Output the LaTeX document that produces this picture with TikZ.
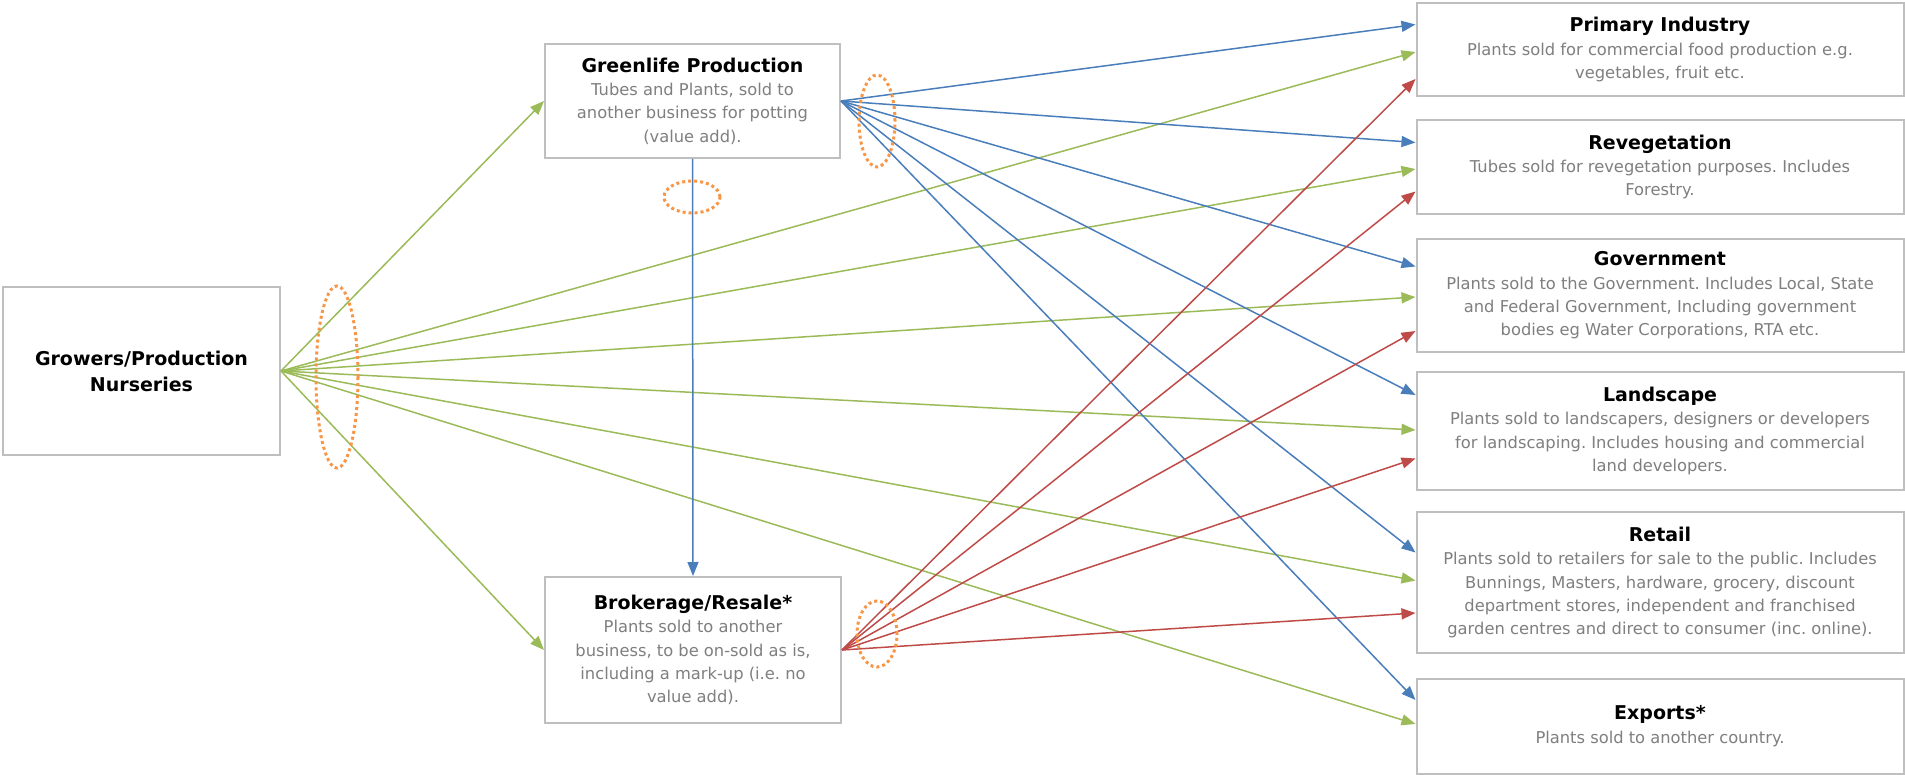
\documentclass[tikz,border=0pt]{standalone}
\usepackage{fontspec}
\setmainfont{DejaVu Sans}
\usetikzlibrary{arrows.meta}
\definecolor{cblue}{HTML}{4A7EBB}
\definecolor{cgreen}{HTML}{9BBB59}
\definecolor{cred}{HTML}{BE4B48}
\definecolor{corange}{HTML}{F79646}
\definecolor{cgrey}{HTML}{BFBFBF}
\definecolor{ctext}{HTML}{7F7F7F}
\newcommand{\boxttl}[1]{{\color{black}\fontsize{19}{23.3}\selectfont\bfseries #1}}
\frenchspacing
\begin{document}
\begin{tikzpicture}[x=1pt,y=-1pt,
  box/.style={draw=cgrey, line width=2pt, fill=white, rectangle, align=center,
    inner sep=0pt, font=\fontsize{16.3}{23.3}\selectfont, text=ctext},
  rbox/.style={box, minimum width=487pt},
  conn/.style={line width=1.5pt, -{Triangle[length=14pt,width=11pt]}},
  bl/.style={conn, draw=cblue, fill=cblue},
  gr/.style={conn, draw=cgreen, fill=cgreen},
  rd/.style={conn, draw=cred, fill=cred},
  ell/.style={draw=corange, line width=3pt, dash pattern=on 3pt off 3pt}
]
\useasboundingbox (0,0) rectangle (1905,775);

% nodes
\node[box, minimum width=277pt, minimum height=168pt, font=\fontsize{19}{26}\selectfont\bfseries, text=black]
  (grow) at (141.5,371) {Growers/Production\\Nurseries};
\node[box, minimum width=295pt, minimum height=114pt] (green) at (692.5,101)
  {\boxttl{Greenlife Production}\\Tubes and Plants, sold to\\another business for potting\\(value add).};
\node[box, minimum width=296pt, minimum height=146pt] (broker) at (693,650)
  {\boxttl{Brokerage/Resale*}\\Plants sold to another\\business, to be on-sold as is,\\including a mark-up (i.e. no\\value add).};

\node[rbox, minimum height=93pt] (prim) at (1660,49.5)
  {\boxttl{Primary Industry}\\Plants sold for commercial food production e.g.\\vegetables, fruit etc.};
\node[rbox, minimum height=94pt] (reveg) at (1660,167)
  {\boxttl{Revegetation}\\Tubes sold for revegetation purposes. Includes\\Forestry.};
\node[rbox, minimum height=113pt] (gov) at (1660,295.5)
  {\boxttl{Government}\\Plants sold to the Government. Includes Local, State\\and Federal Government, Including government\\bodies eg Water Corporations, RTA etc.};
\node[rbox, minimum height=118pt] (land) at (1660,431)
  {\boxttl{Landscape}\\Plants sold to landscapers, designers or developers\\for landscaping. Includes housing and commercial\\land developers.};
\node[rbox, minimum height=141pt] (retail) at (1660,582.5)
  {\boxttl{Retail}\\Plants sold to retailers for sale to the public. Includes\\Bunnings, Masters, hardware, grocery, discount\\department stores, independent and franchised\\garden centres and direct to consumer (inc. online).};
\node[rbox, minimum height=95pt] (exp) at (1660,726)
  {\boxttl{Exports*}\\Plants sold to another country.};

% green connectors from growers
\draw[gr] (grow.east) -- (green.west);
\draw[gr] (grow.east) -- (broker.west);
\draw[gr] (grow.east) -- ([yshift=-2.5pt]prim.west);
\draw[gr] (grow.east) -- ([yshift=-2pt]reveg.west);
\draw[gr] (grow.east) -- ([yshift=-1.5pt]gov.west);
\draw[gr] (grow.east) -- ([yshift=1pt]land.west);
\draw[gr] (grow.east) -- ([yshift=2pt]retail.west);
\draw[gr] (grow.east) -- ([yshift=2pt]exp.west);

% blue connectors from greenlife
\draw[bl] (green.south) -- (broker.north);
\draw[bl] (green.east) -- ([yshift=25pt]prim.west);
\draw[bl] (green.east) -- ([yshift=24.5pt]reveg.west);
\draw[bl] (green.east) -- ([yshift=29pt]gov.west);
\draw[bl] (green.east) -- ([yshift=36pt]land.west);
\draw[bl] (green.east) -- ([yshift=30pt]retail.west);
\draw[bl] (green.east) -- ([yshift=26pt]exp.west);

% red connectors from brokerage
\draw[rd] (broker.east) -- ([yshift=-29.5pt]prim.west);
\draw[rd] (broker.east) -- ([yshift=-24.5pt]reveg.west);
\draw[rd] (broker.east) -- ([yshift=-35.5pt]gov.west);
\draw[rd] (broker.east) -- ([yshift=-27.5pt]land.west);
\draw[rd] (broker.east) -- ([yshift=-30.5pt]retail.west);

% orange dotted ellipses
\draw[ell] (337,377) ellipse [x radius=21pt, y radius=91pt];
\draw[ell] (877,121) ellipse [x radius=18pt, y radius=46pt];
\draw[ell] (692,197) ellipse [x radius=28pt, y radius=16pt];
\draw[ell] (877,634) ellipse [x radius=20pt, y radius=33pt];
\end{tikzpicture}
\end{document}
